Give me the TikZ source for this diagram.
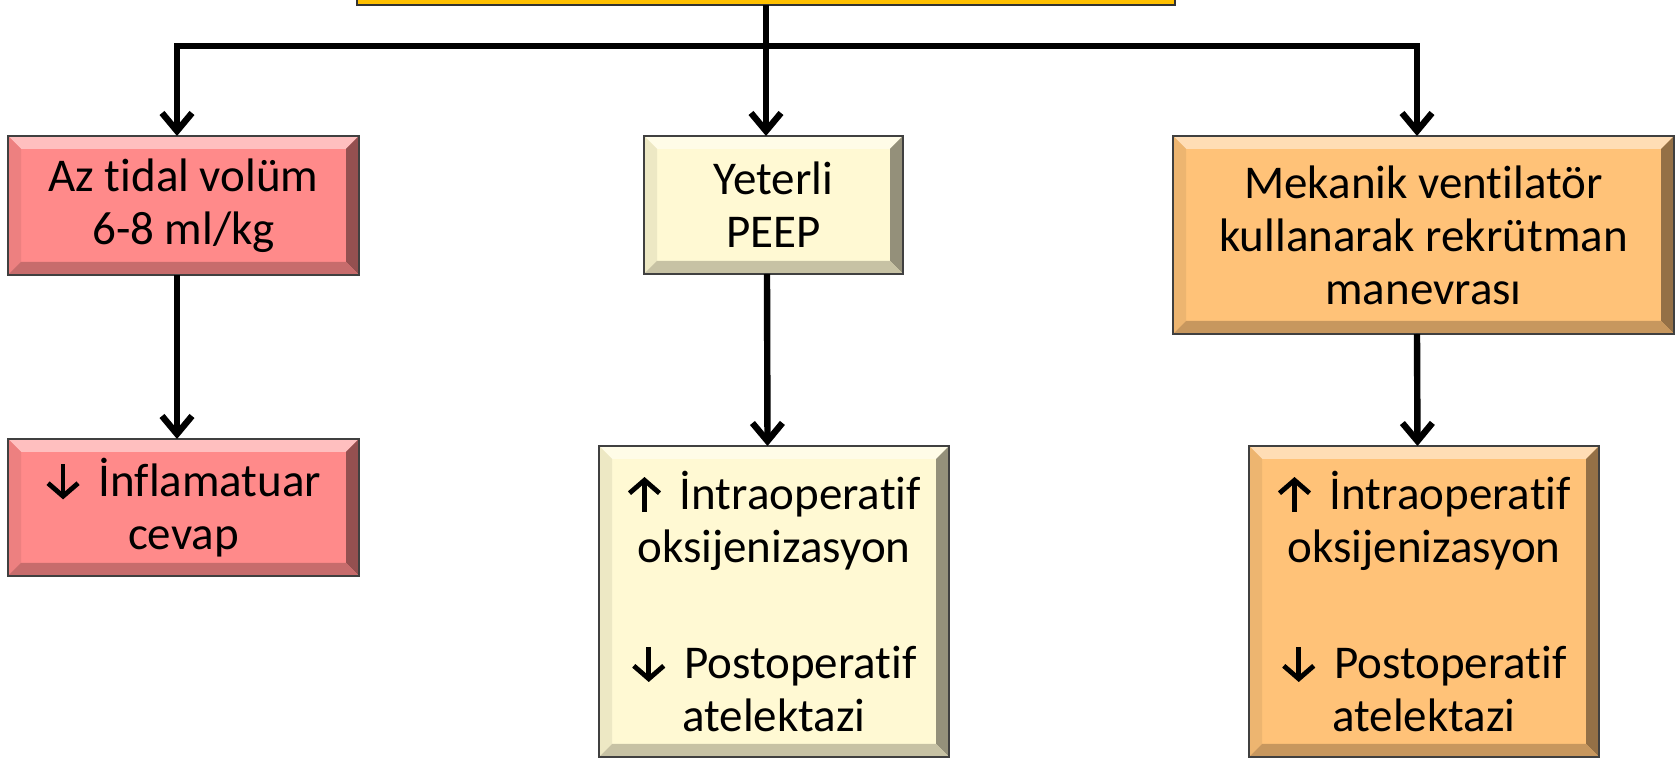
\documentclass[tikz,border=0pt]{standalone}
\usepackage{fontspec}
\setmainfont{Carlito}[Ligatures=NoCommon]
\usetikzlibrary{arrows.meta,calc}
\definecolor{redbox}{HTML}{FF8A8A}
\definecolor{creambox}{HTML}{FFF9D3}
\definecolor{orangebox}{HTML}{FFC278}
\definecolor{goldbox}{HTML}{FFC000}
\tikzset{
  glypharrow/.style={line width=2.4pt, black, -{Straight Barb[length=6.5pt,width=15pt]}}
}
\newcommand{\uparr}{\tikz[baseline=0pt]\draw[glypharrow] (0pt,-1.5pt) -- (0pt,16pt);\hspace*{9pt}}
\newcommand{\dnarr}{\tikz[baseline=0pt]\draw[glypharrow] (0pt,16pt) -- (0pt,-1.5pt);\hspace*{9pt}}
\tikzset{
  bevelbox/.style={draw=black!75, line width=1pt, fill=#1, inner sep=0pt, outer sep=0pt,
    align=center, font=\fontsize{23.5}{26.5}\selectfont,
    path picture={
      \path (path picture bounding box.north west) coordinate (o1)
            (path picture bounding box.north east) coordinate (o2)
            (path picture bounding box.south east) coordinate (o3)
            (path picture bounding box.south west) coordinate (o4)
            ([shift={(6.5pt,-6.5pt)}]path picture bounding box.north west) coordinate (i1)
            ([shift={(-6.5pt,-6.5pt)}]path picture bounding box.north east) coordinate (i2)
            ([shift={(-6.5pt,6.5pt)}]path picture bounding box.south east) coordinate (i3)
            ([shift={(6.5pt,6.5pt)}]path picture bounding box.south west) coordinate (i4);
      \fill[#1!55!white] (o1)--(o2)--(i2)--(i1)--cycle;
      \fill[#1!93!black] (o1)--(i1)--(i4)--(o4)--cycle;
      \fill[#1!58!black] (o2)--(o3)--(i3)--(i2)--cycle;
      \fill[#1!78!black] (o4)--(i4)--(i3)--(o3)--cycle;
    }},
  topbox/.style={draw=black!80, line width=1pt, fill=goldbox, inner sep=0pt, outer sep=0pt},
  conn/.style={line width=3.2pt, black},
  arr/.style={conn, -{Straight Barb[length=9pt,width=15pt]}}
}
\begin{document}
\begin{tikzpicture}[x=0.5pt,y=-0.5pt]
\useasboundingbox (0,0) rectangle (1678,758);
\clip (0,0) rectangle (1678,758);
\fill[white] (0,0) rectangle (1678,758);

\node[topbox, minimum width=409pt, minimum height=60pt] (top) at (766,-55) {};

\node[bevelbox=redbox, minimum width=175.5pt, minimum height=69.5pt] (A) at (183.5,205.5)
  {Az tidal volüm\\6-8 ml/kg};
\node[bevelbox=creambox, minimum width=129.5pt, minimum height=69pt] (B) at (773.5,205)
  {Yeterli\\PEEP};
\node[bevelbox=orangebox, minimum width=250.5pt, minimum height=99pt] (C) at (1423.5,235)
  {Mekanik ventilatör\\kullanarak rekrütman\\manevrası};
\node[bevelbox=redbox, minimum width=175.5pt, minimum height=68.5pt] (D) at (183.5,507.5)
  {\dnarr İnflamatuar\\cevap};
\node[bevelbox=creambox, minimum width=175pt, minimum height=155.5pt] (E) at (774,601.5)
  {\uparr İntraoperatif\\oksijenizasyon\\[32pt]\dnarr Postoperatif\\atelektazi};
\node[bevelbox=orangebox, minimum width=175pt, minimum height=155.5pt] (F) at (1424,601.5)
  {\uparr İntraoperatif\\oksijenizasyon\\[32pt]\dnarr Postoperatif\\atelektazi};

\coordinate (bar) at (766,46);
\coordinate (aT) at ([xshift=-3.25pt]A.north);
\coordinate (aB) at ([xshift=-3.25pt]A.south);
\coordinate (bB) at ([xshift=-3.25pt]B.south);
\coordinate (cT) at ([xshift=-3.25pt]C.north);
\coordinate (cB) at ([xshift=-3.25pt]C.south);
\coordinate (dT) at ([xshift=-3.25pt]D.north);
\coordinate (eT) at ([xshift=-3.25pt]E.north);
\coordinate (fT) at ([xshift=-3.25pt]F.north);

\draw[arr] (top.south) -- (top.south |- B.north);
\draw[arr] (bar) -| (aT);
\draw[arr] (bar) -| (cT);
\draw[arr] (aB) -- (dT);
\draw[arr] (bB) -- (eT);
\draw[arr] (cB) -- (fT);
\end{tikzpicture}
\end{document}
